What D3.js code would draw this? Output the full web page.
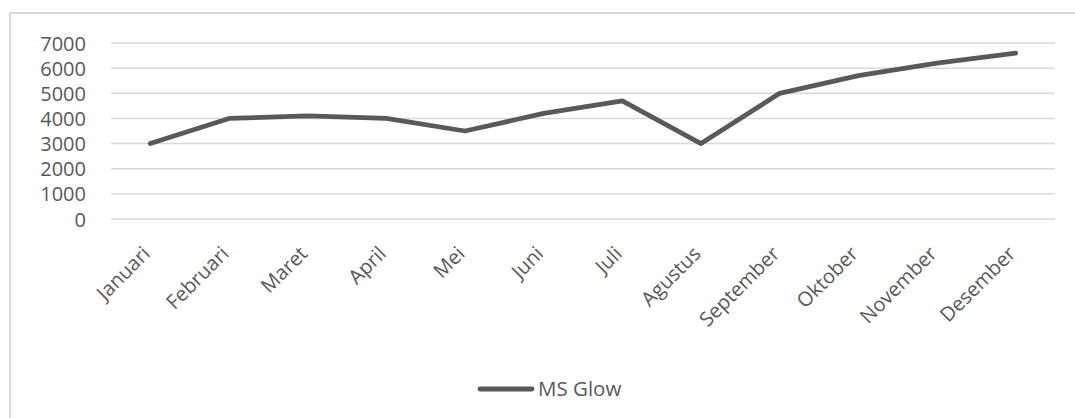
<!DOCTYPE html>
<html><head><meta charset="utf-8">
<script src="https://cdn.jsdelivr.net/npm/d3@7"></script>
<style>body{margin:0;background:#fff}svg{display:block}text{font-family:"Open Sans",sans-serif;fill:#595959}</style>
</head><body>
<script>
const months = ["Januari","Februari","Maret","April","Mei","Juni","Juli","Agustus","September","Oktober","November","Desember"];
const msGlow = [3000,4000,4100,4000,3500,4200,4700,3000,5000,5700,6200,6600];
const yTicks = [0,1000,2000,3000,4000,5000,6000,7000];
const seriesName = "MS Glow";

const W=1075,H=418;
const svg=d3.select("body").append("svg").attr("width",W).attr("height",H);
svg.append("path").attr("d",`M10,${H} V13 H${W}`).attr("fill","none").attr("stroke","#d9d9d9").attr("stroke-width",2);

const x=d3.scaleBand().domain(months).range([111,1055]);
const y=d3.scaleLinear().domain([0,7000]).range([219,43]);

svg.append("g").selectAll("line").data(yTicks).join("line")
 .attr("x1",111).attr("x2",1055).attr("y1",d=>y(d)).attr("y2",d=>y(d))
 .attr("stroke","#d9d9d9").attr("stroke-width",1.5);

const yAxis=d3.axisLeft(y).tickValues(yTicks).tickFormat(d3.format("d")).tickSize(0).tickPadding(0);
const ga=svg.append("g").attr("transform","translate(86,0)").call(yAxis);
ga.select(".domain").remove();
ga.selectAll("text").style("font-size","20px").style("font-family","'Open Sans',sans-serif").attr("fill","#595959").attr("dy","0.35em");

const xAxis=d3.axisBottom(x).tickSize(0).tickPadding(0);
const gx=svg.append("g").attr("transform","translate(0,219)").call(xAxis);
gx.select(".domain").remove();
gx.selectAll("text").style("font-size","20px").style("font-family","'Open Sans',sans-serif").attr("fill","#595959")
 .attr("text-anchor","end").attr("dy",0).attr("y",0)
 .attr("transform","translate(1,36) rotate(-45)");

const line=d3.line().x((d,i)=>x(months[i])+x.bandwidth()/2).y(d=>y(d));
svg.append("path").datum(msGlow).attr("d",line).attr("fill","none")
 .attr("stroke","#595959").attr("stroke-width",4.8).attr("stroke-linecap","round").attr("stroke-linejoin","round");

const lg=svg.append("g");
lg.append("line").attr("x1",480).attr("x2",532).attr("y1",389).attr("y2",389).attr("stroke","#595959").attr("stroke-width",4.8).attr("stroke-linecap","round");
lg.append("text").attr("x",538).attr("y",389).attr("dy","0.35em").style("font-size","20.5px").text(seriesName);
</script>
</body></html>
